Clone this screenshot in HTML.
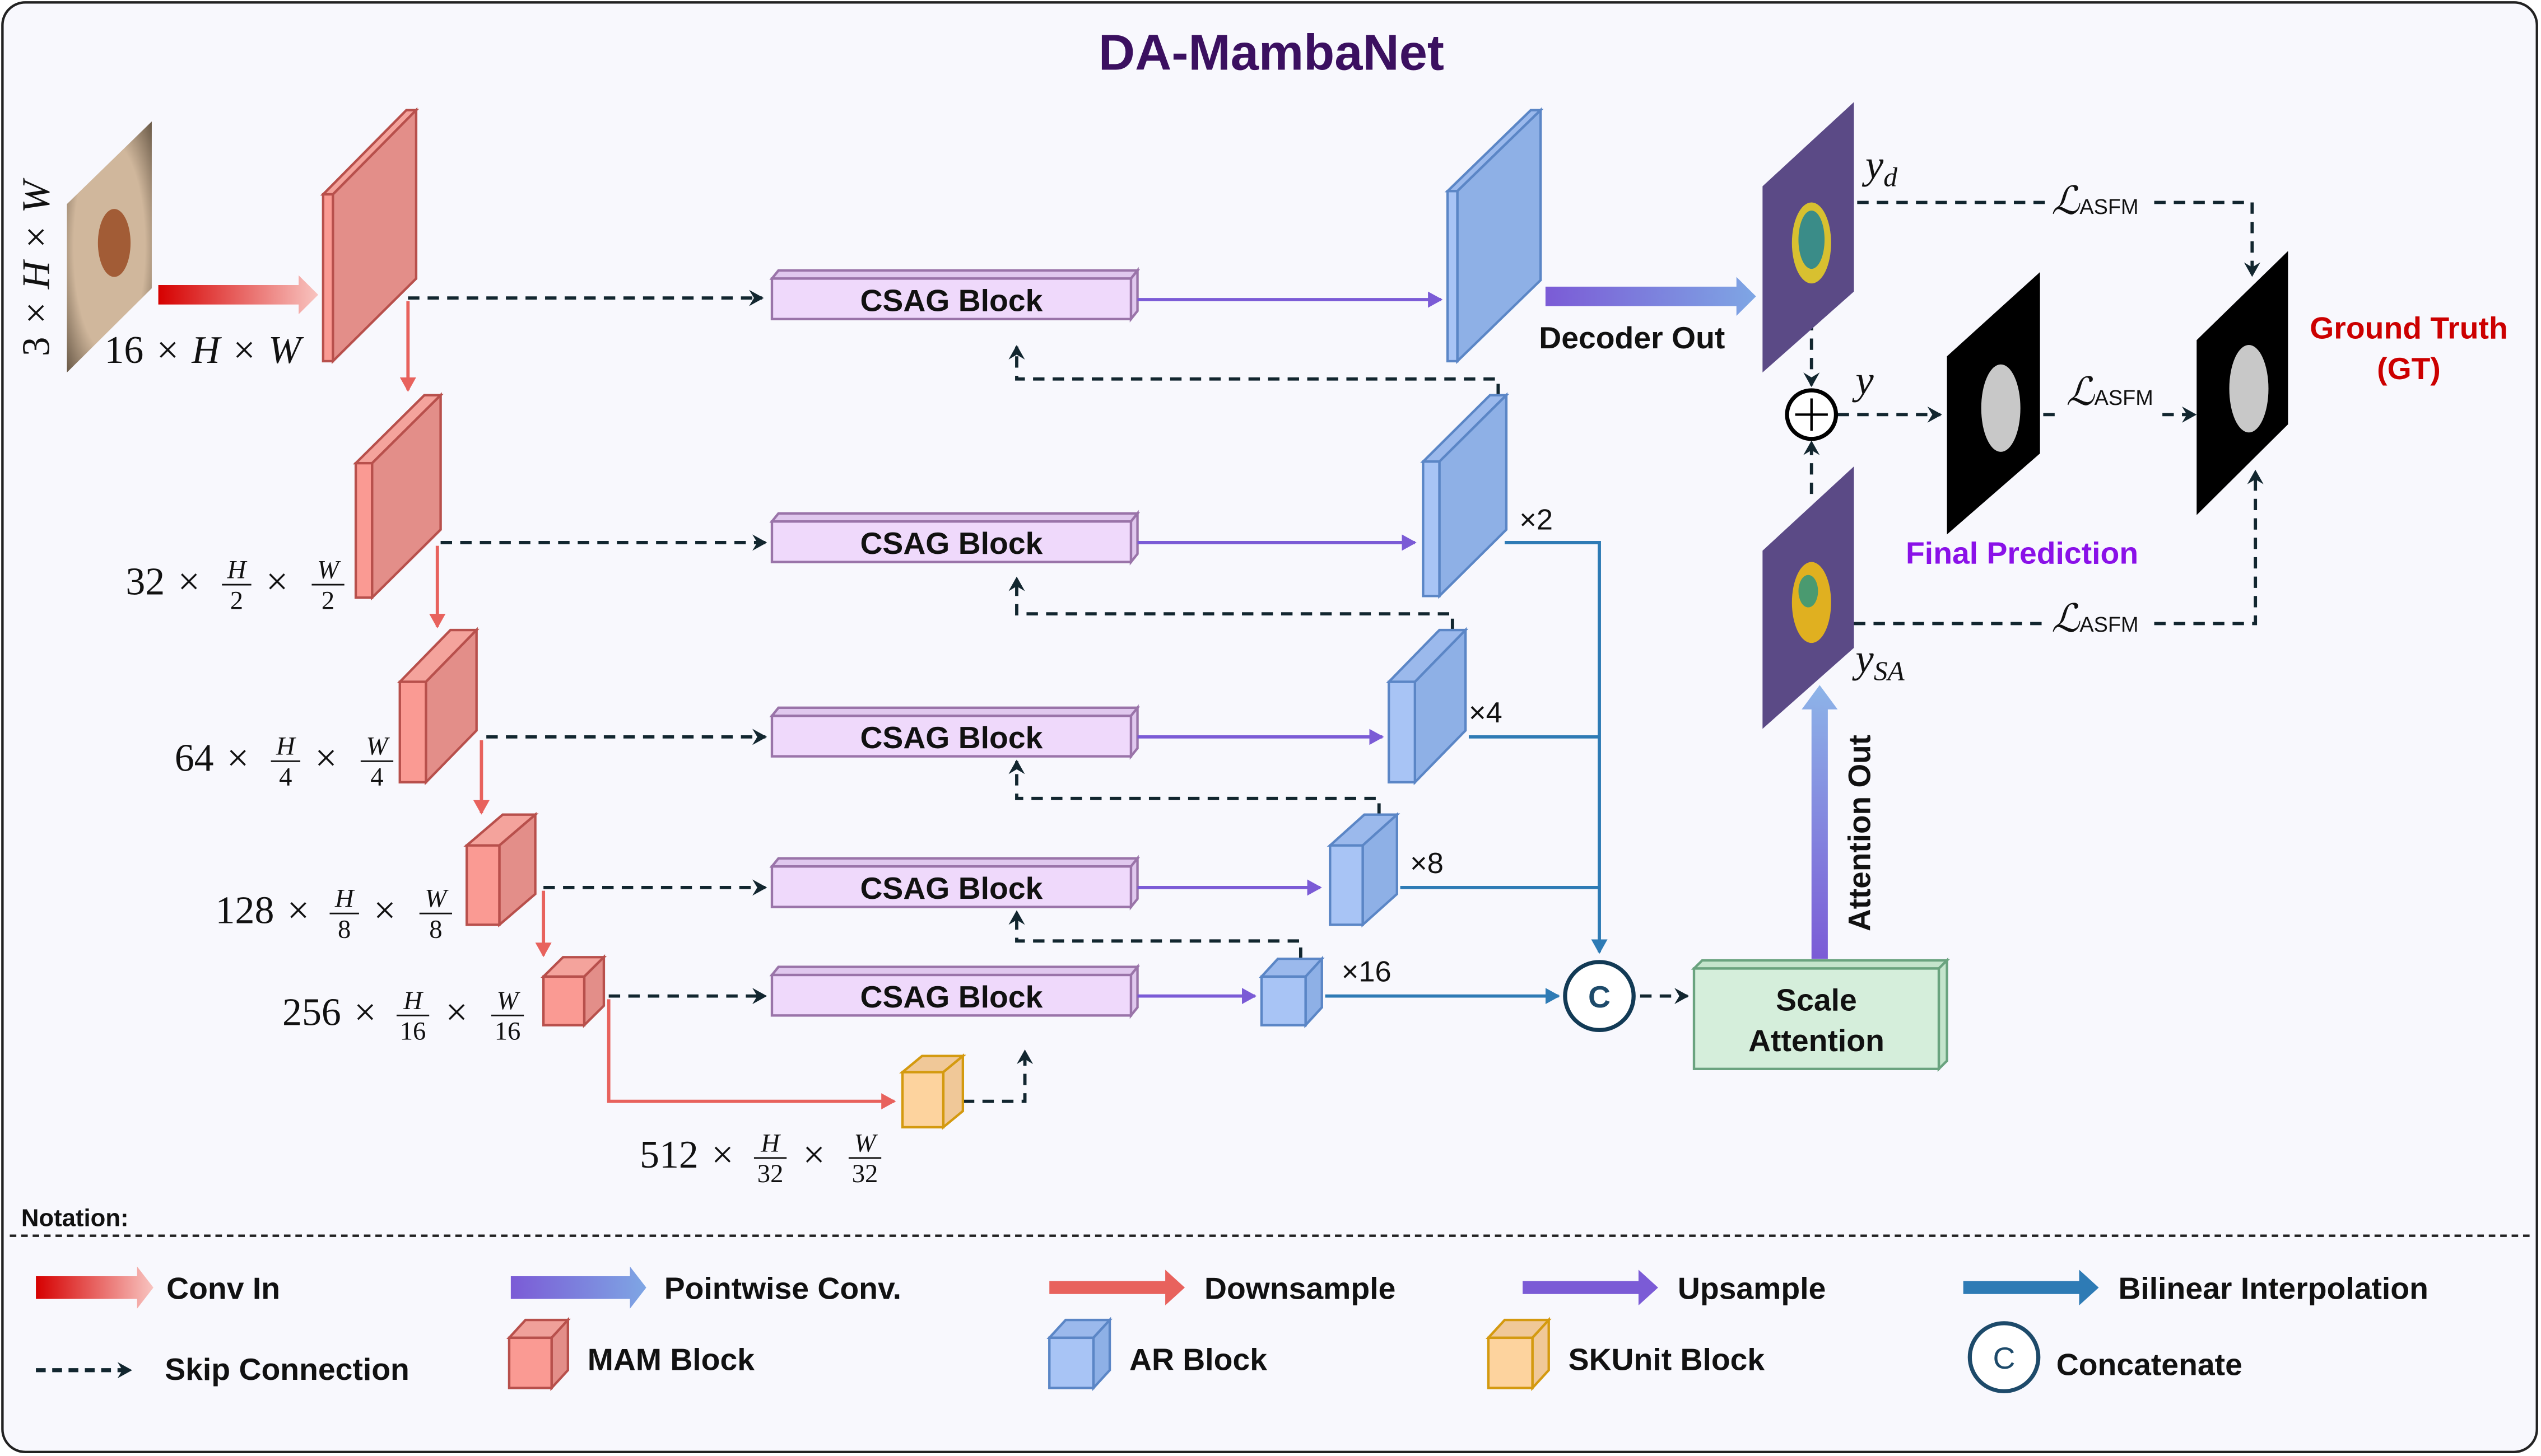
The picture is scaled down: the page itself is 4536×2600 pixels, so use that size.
<!DOCTYPE html>
<html><head><meta charset="utf-8"><style>
html,body{margin:0;padding:0;background:#fff;}
svg{display:block;}
text{font-family:"Liberation Sans",sans-serif;}
.b{font-weight:bold;font-size:19px;fill:#111;}
.m{font-family:"Liberation Serif",serif;font-size:24px;fill:#111;word-spacing:2px;}
.mi{font-family:"Liberation Serif",serif;font-style:italic;}
.fr{font-family:"Liberation Serif",serif;font-size:16px;fill:#111;}
</style></head><body>
<svg width="4536" height="2600" viewBox="0 0 1557 899" preserveAspectRatio="none" xmlns="http://www.w3.org/2000/svg">
<defs>
<linearGradient id="gr" x1="0" x2="1"><stop offset="0" stop-color="#d60000"/><stop offset="1" stop-color="#f8c4c0"/></linearGradient>
<linearGradient id="gp" x1="0" x2="1"><stop offset="0" stop-color="#7b5bd6"/><stop offset="1" stop-color="#7ea6e4"/></linearGradient>
<linearGradient id="gv" x1="0" y1="1" x2="0" y2="0"><stop offset="0" stop-color="#7b5bd6"/><stop offset="1" stop-color="#8db4e8"/></linearGradient>
<radialGradient id="skin" cx="0.5" cy="0.5" r="0.7"><stop offset="0.6" stop-color="#d0b79c"/><stop offset="1" stop-color="#6a5a48"/></radialGradient>
<marker id="ak" markerWidth="10" markerHeight="10" refX="8" refY="5" orient="auto" markerUnits="userSpaceOnUse"><path d="M0,0 L9,5 L0,10 L3,5 Z" fill="#12262f"/></marker>
<marker id="ar" markerWidth="10" markerHeight="10" refX="8" refY="5" orient="auto" markerUnits="userSpaceOnUse"><path d="M0,0 L9,5 L0,10 Z" fill="#e8625d"/></marker>
<marker id="ap" markerWidth="10" markerHeight="10" refX="8" refY="5" orient="auto" markerUnits="userSpaceOnUse"><path d="M0,0 L9,5 L0,10 Z" fill="#7b5bd6"/></marker>
<marker id="ab" markerWidth="10" markerHeight="10" refX="8" refY="5" orient="auto" markerUnits="userSpaceOnUse"><path d="M0,0 L9,5 L0,10 Z" fill="#2e7bb5"/></marker>
</defs>
<rect x="1.5" y="1.5" width="1553" height="895" rx="14" fill="#f8f8fd" stroke="#222" stroke-width="1.5"/>
<text x="779" y="43" text-anchor="middle" font-size="31" font-weight="bold" fill="#3b1060">DA-MambaNet</text>

<!-- input image -->
<polygon points="41,126 93,75 93,178 41,230" fill="url(#skin)"/>
<ellipse cx="70" cy="150" rx="10" ry="21" fill="#9a4c25" opacity="0.85"/>
<text class="m" transform="translate(30,220) rotate(-90)"><tspan>3 × </tspan><tspan class="mi">H</tspan><tspan> × </tspan><tspan class="mi">W</tspan></text>
<text class="m" x="64" y="224"><tspan>16 × </tspan><tspan class="mi">H</tspan><tspan> × </tspan><tspan class="mi">W</tspan></text>
<polygon points="97,176 183,176 183,170 195,182 183,194 183,188 97,188" fill="url(#gr)"/>

<!-- skip dashed lines -->
<g stroke="#12262f" stroke-width="2" stroke-dasharray="7,5" fill="none" marker-end="url(#ak)">
<path d="M250,184 H467"/><path d="M270,335 H469"/><path d="M298,455 H469"/><path d="M333,548 H469"/><path d="M373,615 H469"/>
<path d="M590,680 H628 V649"/>
<path d="M918,244 V234 H623 V214"/><path d="M890,389 V379 H623 V357"/><path d="M845,503 V493 H623 V470"/><path d="M797,592 V581 H623 V563"/>
<path d="M1005,615 H1034"/>
<path d="M1110,197 V238"/><path d="M1110,305 V273"/><path d="M1126,256 H1189"/>
<path d="M1138,125 H1255 M1320,125 H1380 V170"/>
<path d="M1252,256 H1262 M1325,256 H1345"/>
<path d="M1136,385 H1253 M1320,385 H1382 V291"/>
</g>

<!-- downsample -->
<g stroke="#e8625d" stroke-width="2" fill="none" marker-end="url(#ar)">
<path d="M250,186 V241"/><path d="M268,337 V387"/><path d="M295,457 V502"/><path d="M333,550 V590"/><path d="M373,617 V680 H548"/>
</g>

<!-- MAM blocks -->
<g stroke="#b8504c" stroke-width="1.5">
<polygon points="198,120 249,68 255,68 204,120" fill="#f4a39c"/><polygon points="204,120 255,68 255,172 204,223" fill="#e38e89"/><rect x="198" y="120" width="6" height="103" fill="#fa9a93"/>
<polygon points="218,286 260,244 270,244 228,286" fill="#f4a39c"/><polygon points="228,286 270,244 270,327 228,369" fill="#e38e89"/><rect x="218" y="286" width="10" height="83" fill="#fa9a93"/>
<polygon points="245,421 276,389 292,389 261,421" fill="#f4a39c"/><polygon points="261,421 292,389 292,451 261,483" fill="#e38e89"/><rect x="245" y="421" width="16" height="62" fill="#fa9a93"/>
<polygon points="286,522 308,503 328,503 306,522" fill="#f4a39c"/><polygon points="306,522 328,503 328,552 306,571" fill="#e38e89"/><rect x="286" y="522" width="20" height="49" fill="#fa9a93"/>
<polygon points="333,603 345,591 370,591 358,603" fill="#f4a39c"/><polygon points="358,603 370,591 370,621 358,633" fill="#e38e89"/><rect x="333" y="603" width="25" height="30" fill="#fa9a93"/>
</g>
<g stroke="#d49a10" stroke-width="1.5">
<polygon points="553,662 565,652 590,652 578,662" fill="#f0c898"/><polygon points="578,662 590,652 590,686 578,696" fill="#f0c898"/><rect x="553" y="662" width="25" height="34" fill="#fdd39e"/>
</g>

<!-- CSAG blocks -->
<g stroke="#9a74a9" stroke-width="1.5">
<g><polygon points="473,172 477,167 697,167 693,172" fill="#e0c8ee"/><polygon points="693,172 697,167 697,192 693,197" fill="#e0c8ee"/><rect x="473" y="172" width="220" height="25" fill="#efd9fb"/></g>
<g><polygon points="473,322 477,317 697,317 693,322" fill="#e0c8ee"/><polygon points="693,322 697,317 697,342 693,347" fill="#e0c8ee"/><rect x="473" y="322" width="220" height="25" fill="#efd9fb"/></g>
<g><polygon points="473,442 477,437 697,437 693,442" fill="#e0c8ee"/><polygon points="693,442 697,437 697,462 693,467" fill="#e0c8ee"/><rect x="473" y="442" width="220" height="25" fill="#efd9fb"/></g>
<g><polygon points="473,535 477,530 697,530 693,535" fill="#e0c8ee"/><polygon points="693,535 697,530 697,555 693,560" fill="#e0c8ee"/><rect x="473" y="535" width="220" height="25" fill="#efd9fb"/></g>
<g><polygon points="473,602 477,597 697,597 693,602" fill="#e0c8ee"/><polygon points="693,602 697,597 697,622 693,627" fill="#e0c8ee"/><rect x="473" y="602" width="220" height="25" fill="#efd9fb"/></g>
</g>
<g text-anchor="middle"><text x="583" y="192" class="b">CSAG Block</text><text x="583" y="342" class="b">CSAG Block</text><text x="583" y="462" class="b">CSAG Block</text><text x="583" y="555" class="b">CSAG Block</text><text x="583" y="622" class="b">CSAG Block</text></g>

<!-- upsample -->
<g stroke="#7b5bd6" stroke-width="2" fill="none" marker-end="url(#ap)">
<path d="M697,185 H883"/><path d="M697,335 H867"/><path d="M697,455 H847"/><path d="M697,548 H809"/><path d="M697,615 H769"/>
</g>

<!-- AR blocks -->
<g stroke="#5b86c6" stroke-width="1.5">
<polygon points="887,118 938,68 944,68 893,118" fill="#9bb9ec"/><polygon points="893,118 944,68 944,173 893,223" fill="#8eb0e6"/><rect x="887" y="118" width="6" height="105" fill="#a8c4f5"/>
<polygon points="872,285 913,244 923,244 882,285" fill="#9bb9ec"/><polygon points="882,285 923,244 923,327 882,368" fill="#8eb0e6"/><rect x="872" y="285" width="10" height="83" fill="#a8c4f5"/>
<polygon points="851,421 882,389 898,389 867,421" fill="#9bb9ec"/><polygon points="867,421 898,389 898,451 867,483" fill="#8eb0e6"/><rect x="851" y="421" width="16" height="62" fill="#a8c4f5"/>
<polygon points="815,522 836,503 856,503 835,522" fill="#9bb9ec"/><polygon points="835,522 856,503 856,552 835,571" fill="#8eb0e6"/><rect x="815" y="522" width="20" height="49" fill="#a8c4f5"/>
<polygon points="773,603 783,592 810,592 800,603" fill="#9bb9ec"/><polygon points="800,603 810,592 810,622 800,633" fill="#8eb0e6"/><rect x="773" y="603" width="27" height="30" fill="#a8c4f5"/>
</g>

<!-- bilinear -->
<g stroke="#2e7bb5" stroke-width="2" fill="none">
<path d="M922,335 H980 V588" marker-end="url(#ab)"/><path d="M900,455 H980"/><path d="M858,548 H980"/><path d="M812,615 H955" marker-end="url(#ab)"/>
</g>
<g font-size="18" fill="#111" font-family="Liberation Serif,serif"><text x="931" y="327">×2</text><text x="900" y="446">×4</text><text x="864" y="539">×8</text><text x="822" y="606">×16</text></g>
<circle cx="980" cy="615" r="21" fill="#fff" stroke="#123a55" stroke-width="2.5"/>
<text x="980" y="622" text-anchor="middle" font-size="19" font-weight="bold" fill="#1d4a6a">C</text>

<!-- scale attention -->
<g stroke="#6aa37f" stroke-width="1.5">
<polygon points="1038,598 1043,593 1193,593 1188,598" fill="#c4e4cc"/><polygon points="1188,598 1193,593 1193,655 1188,660" fill="#c4e4cc"/>
<rect x="1038" y="598" width="150" height="62" fill="#d5eedb"/></g>
<text class="b" x="1113" y="624" text-anchor="middle">Scale</text><text class="b" x="1113" y="649" text-anchor="middle">Attention</text>
<polygon points="1110,592 1110,438 1104,438 1115,423 1126,438 1120,438 1120,592" fill="url(#gv)"/>
<text class="b" transform="translate(1146,575) rotate(-90)">Attention Out</text>

<!-- decoder out -->
<polygon points="947,177 1064,177 1064,171 1076,183 1064,195 1064,189 947,189" fill="url(#gp)"/>
<text class="b" x="1000" y="215" text-anchor="middle">Decoder Out</text>

<!-- yd image -->
<polygon points="1080,115 1136,63 1136,180 1080,230" fill="#5b4a86"/>
<ellipse cx="1110" cy="150" rx="12" ry="25" fill="#d8c030"/><ellipse cx="1110" cy="148" rx="8" ry="18" fill="#3a8c88"/>
<!-- ySA image -->
<polygon points="1080,340 1136,288 1136,400 1080,450" fill="#5b4a86"/>
<ellipse cx="1110" cy="372" rx="12" ry="25" fill="#e0b020"/><ellipse cx="1108" cy="365" rx="6" ry="10" fill="#4a9a70"/>
<!-- final prediction -->
<polygon points="1193,220 1250,168 1250,280 1193,330" fill="#000"/>
<ellipse cx="1226" cy="252" rx="12" ry="27" fill="#c8c8c8"/>
<!-- GT -->
<polygon points="1346,210 1402,155 1402,262 1346,318" fill="#000"/>
<ellipse cx="1378" cy="240" rx="12" ry="27" fill="#c8c8c8"/>
<circle cx="1110" cy="256" r="15" fill="#fff" stroke="#000" stroke-width="2.5"/>
<path d="M1100,256 H1120 M1110,246 V266" stroke="#000" stroke-width="1.5"/>
<text x="1143" y="110" font-size="25" class="mi" fill="#111">y<tspan font-size="17" dy="5">d</tspan></text>
<text x="1137" y="243" font-size="25" class="mi" fill="#111">y</text>
<text x="1137" y="415" font-size="25" class="mi" fill="#111">y<tspan font-size="17" dy="5">SA</tspan></text>
<g fill="#111"><text x="1257" y="132" font-size="24" class="mi">ℒ<tspan font-size="13" font-family="Liberation Sans,sans-serif" font-style="normal">ASFM</tspan></text>
<text x="1266" y="250" font-size="24" class="mi">ℒ<tspan font-size="13" font-family="Liberation Sans,sans-serif" font-style="normal">ASFM</tspan></text>
<text x="1257" y="390" font-size="24" class="mi">ℒ<tspan font-size="13" font-family="Liberation Sans,sans-serif" font-style="normal">ASFM</tspan></text></g>
<text x="1476" y="209" text-anchor="middle" font-size="19" font-weight="bold" fill="#cc0000">Ground Truth</text>
<text x="1476" y="234" text-anchor="middle" font-size="19" font-weight="bold" fill="#cc0000">(GT)</text>
<text x="1239" y="348" text-anchor="middle" font-size="19" font-weight="bold" fill="#8a11e8">Final Prediction</text>

<!-- dimension labels -->
<g>
<text x="77" y="367" class="m">32 ×</text><text x="163" y="367" class="m">×</text>
<text x="107" y="476" class="m">64 ×</text><text x="193" y="476" class="m">×</text>
<text x="132" y="570" class="m">128 ×</text><text x="229" y="570" class="m">×</text>
<text x="173" y="633" class="m">256 ×</text><text x="273" y="633" class="m">×</text>
<text x="392" y="721" class="m">512 ×</text><text x="492" y="721" class="m">×</text>
</g>
<g text-anchor="middle">
<text x="145" y="357" class="fr mi">H</text><line x1="136" y1="361" x2="154" y2="361" stroke="#111"/><text x="145" y="376" class="fr">2</text>
<text x="201" y="357" class="fr mi">W</text><line x1="191" y1="361" x2="211" y2="361" stroke="#111"/><text x="201" y="376" class="fr">2</text>
<text x="175" y="466" class="fr mi">H</text><line x1="166" y1="470" x2="184" y2="470" stroke="#111"/><text x="175" y="485" class="fr">4</text>
<text x="231" y="466" class="fr mi">W</text><line x1="221" y1="470" x2="241" y2="470" stroke="#111"/><text x="231" y="485" class="fr">4</text>
<text x="211" y="560" class="fr mi">H</text><line x1="202" y1="564" x2="220" y2="564" stroke="#111"/><text x="211" y="579" class="fr">8</text>
<text x="267" y="560" class="fr mi">W</text><line x1="257" y1="564" x2="277" y2="564" stroke="#111"/><text x="267" y="579" class="fr">8</text>
<text x="253" y="623" class="fr mi">H</text><line x1="243" y1="627" x2="263" y2="627" stroke="#111"/><text x="253" y="642" class="fr">16</text>
<text x="311" y="623" class="fr mi">W</text><line x1="301" y1="627" x2="321" y2="627" stroke="#111"/><text x="311" y="642" class="fr">16</text>
<text x="472" y="711" class="fr mi">H</text><line x1="462" y1="715" x2="482" y2="715" stroke="#111"/><text x="472" y="730" class="fr">32</text>
<text x="530" y="711" class="fr mi">W</text><line x1="520" y1="715" x2="540" y2="715" stroke="#111"/><text x="530" y="730" class="fr">32</text>
</g>

<!-- notation -->
<text x="13" y="757" font-size="15" font-weight="bold" fill="#111">Notation:</text>
<line x1="6" y1="763" x2="1550" y2="763" stroke="#222" stroke-width="1.5" stroke-dasharray="4,3"/>
<polygon points="22,788 84,788 84,782 94,795 84,808 84,802 22,802" fill="url(#gr)"/>
<text class="b" x="102" y="802">Conv In</text>
<polygon points="313,788 386,788 386,782 396,795 386,808 386,802 313,802" fill="url(#gp)"/>
<text class="b" x="407" y="802">Pointwise Conv.</text>
<polygon points="643,791 714,791 714,784 726,795 714,806 714,799 643,799" fill="#e8625d"/>
<text class="b" x="738" y="802">Downsample</text>
<polygon points="933,791 1004,791 1004,784 1016,795 1004,806 1004,799 933,799" fill="#7b5bd6"/>
<text class="b" x="1028" y="802">Upsample</text>
<polygon points="1203,791 1274,791 1274,784 1286,795 1274,806 1274,799 1203,799" fill="#2e7bb5"/>
<text class="b" x="1298" y="802">Bilinear Interpolation</text>
<path d="M22,846 H80" stroke="#12262f" stroke-width="2.5" stroke-dasharray="6,4" marker-end="url(#ak)"/>
<text class="b" x="101" y="852">Skip Connection</text>
<g stroke-width="1.5">
<g stroke="#b8504c"><polygon points="312,826 322,815 348,815 338,826" fill="#f0a09a"/><polygon points="338,826 348,815 348,846 338,857" fill="#e38e89"/><rect x="312" y="826" width="26" height="31" fill="#fa9a93"/></g>
<g stroke="#5b86c6"><polygon points="643,826 653,815 680,815 670,826" fill="#9bb9ec"/><polygon points="670,826 680,815 680,846 670,857" fill="#8eb0e6"/><rect x="643" y="826" width="27" height="31" fill="#a8c4f5"/></g>
<g stroke="#d49a10"><polygon points="912,826 922,815 949,815 939,826" fill="#f0c898"/><polygon points="939,826 949,815 949,846 939,857" fill="#f0c898"/><rect x="912" y="826" width="27" height="31" fill="#fdd39e"/></g>
</g>
<text class="b" x="360" y="846">MAM Block</text>
<text class="b" x="692" y="846">AR Block</text>
<text class="b" x="961" y="846">SKUnit Block</text>
<circle cx="1228" cy="838" r="21" fill="#fff" stroke="#1d4a6a" stroke-width="2.5"/>
<text x="1228" y="845" text-anchor="middle" font-size="19" fill="#1d4a6a">C</text>
<text class="b" x="1260" y="849">Concatenate</text>
</svg>
</body></html>
